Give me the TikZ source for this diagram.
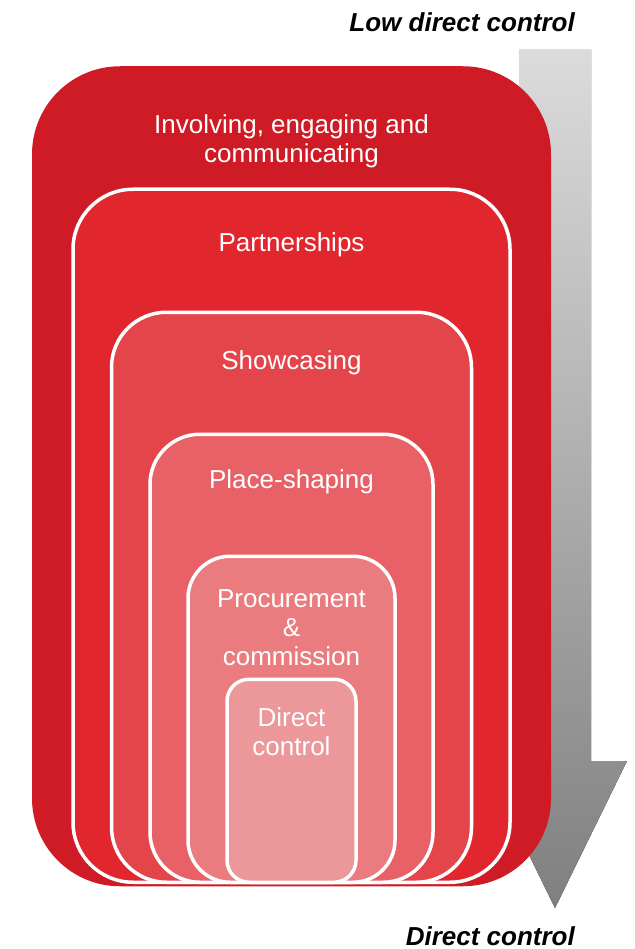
\documentclass[tikz,border=0pt]{standalone}
\usepackage{fontspec}
\setmainfont{Liberation Sans}
\usetikzlibrary{positioning}
\definecolor{ringA}{HTML}{CE1B25}
\definecolor{ringB}{HTML}{E1262E}
\definecolor{ringC}{HTML}{E4454B}
\definecolor{ringD}{HTML}{E86166}
\definecolor{ringE}{HTML}{EA7B7E}
\definecolor{ringF}{HTML}{EC9799}

\begin{document}
\begin{tikzpicture}[x=1pt,y=-1pt,
    ring/.style={rectangle,inner sep=0pt,anchor=south,draw=white,line width=3.5pt},
    lbl/.style={text=white,align=center,inner sep=0pt,font=\fontsize{26}{29}\selectfont},
    side/.style={anchor=east,inner sep=0pt,font=\fontsize{26}{29}\selectfont\bfseries\itshape}]
  \useasboundingbox (0,0) rectangle (634,949);
  \fill[top color=gray!28,bottom color=gray] (519,50) -- (591,50) -- (591,761) -- (627,761)
    -- (555,908) -- (483,761) -- (519,761) -- cycle;
  \node[ring,draw=none,fill=ringA,rounded corners=88pt,minimum width=519pt,minimum height=820pt] (involve) at (291.5,888) {};
  \node[ring,fill=ringB,rounded corners=60pt,minimum width=437pt,minimum height=693pt] (partner) at (291.5,884) {};
  \node[ring,fill=ringC,rounded corners=55pt,minimum width=360pt,minimum height=570pt] (showcase) at (291.5,884) {};
  \node[ring,fill=ringD,rounded corners=50pt,minimum width=283pt,minimum height=448pt] (place) at (291.5,884) {};
  \node[ring,fill=ringE,rounded corners=42pt,minimum width=207pt,minimum height=326pt] (procure) at (291.5,884) {};
  \node[ring,fill=ringF,rounded corners=22pt,minimum width=129pt,minimum height=203pt] (direct) at (291.5,884) {};
  \node[lbl] (involvetxt) at ([yshift=-77pt]involve.north) {Involving, engaging and\\communicating};
  \node[lbl] (partnertxt) at ([yshift=-57pt]partner.north) {Partnerships};
  \node[lbl] (showcasetxt) at ([yshift=-52pt]showcase.north) {Showcasing};
  \node[lbl] (placetxt) at ([yshift=-49pt]place.north) {Place-shaping};
  \node[lbl] (procuretxt) at ([yshift=-73pt]procure.north) {Procurement\\\&\\commission};
  \node[lbl] (directtxt) at ([yshift=-54pt]direct.north) {Direct\\control};
  \node[side] (low) at (575,22) {Low direct control};
  \node[side] (high) at (575,936) {Direct control};
\end{tikzpicture}
\end{document}
